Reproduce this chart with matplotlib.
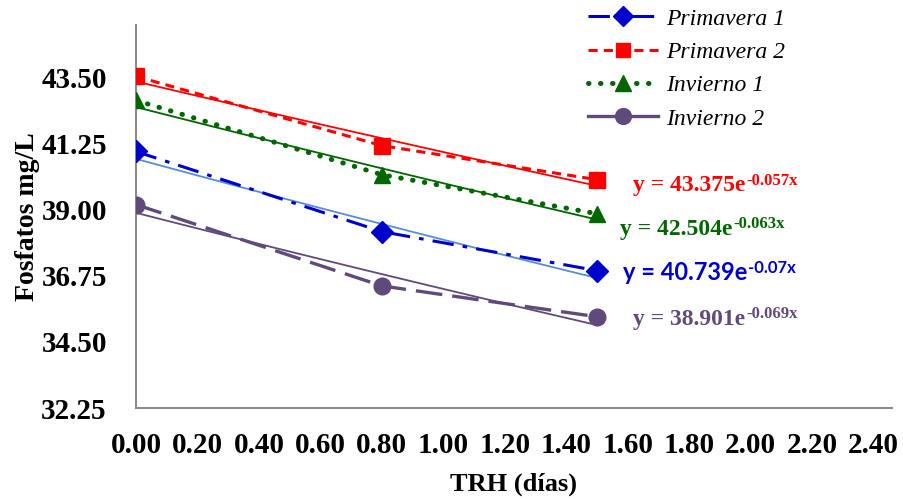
import numpy as np
import matplotlib
matplotlib.use("Agg")
import matplotlib.pyplot as plt
from matplotlib.lines import Line2D

# Sampling times (days) and phosphate measurements (mg/L)
trh = [0.0, 0.8, 1.5]
primavera_1 = [40.99, 38.26, 36.93]
primavera_2 = [43.55, 41.19, 40.03]
invierno_1 = [42.73, 40.20, 38.87]
invierno_2 = [39.18, 36.41, 35.36]

# Exponential trend lines y = a * exp(b x)
fit_a = {"Primavera 1": 40.739, "Primavera 2": 43.375, "Invierno 1": 42.504, "Invierno 2": 38.901}
fit_b = {"Primavera 1": -0.07, "Primavera 2": -0.057, "Invierno 1": -0.063, "Invierno 2": -0.069}

y_ticks = [32.25, 34.50, 36.75, 39.00, 41.25, 43.50]
x_ticks = [0.0, 0.2, 0.4, 0.6, 0.8, 1.0, 1.2, 1.4, 1.6, 1.8, 2.0, 2.2, 2.4]

serif = "Liberation Serif"
W, H = 904, 499

fig = plt.figure(figsize=(W / 100, H / 100), dpi=100)
ax = fig.add_axes([136 / W, 1 - 408 / H, (892 - 136) / W, (408 - 25) / H])

series = [
    ("Primavera 1", primavera_1, "#0000CC", (0, (7, 3, 1.5, 3)), "D", 11, 2.2, "#558ED5"),
    ("Primavera 2", primavera_2, "#FF0000", (0, (3, 2)), "s", 11, 2.2, "#FF0000"),
    ("Invierno 1", invierno_1, "#006600", (0, (0.1, 2.3)), "^", 12, 3.6, "#006600"),
    ("Invierno 2", invierno_2, "#604A7B", (0, (8, 3)), "o", 12, 2.4, "#604A7B"),
]

xs = np.linspace(trh[0], trh[-1], 100)
for name, vals, col, ls, mk, ms, lw, tcol in series:
    a, b = fit_a[name], fit_b[name]
    ax.plot(xs, a * np.exp(b * xs), color=tcol, lw=1.3, zorder=2)

handles = []
for name, vals, col, ls, mk, ms, lw, tcol in series:
    cap = "round" if name == "Invierno 1" else "butt"
    ax.plot(trh, vals, color=col, ls=ls, lw=lw, marker=mk, ms=ms,
            markeredgecolor=col, markerfacecolor=col,
            dash_capstyle=cap, zorder=3)
    hls = "-" if name == "Invierno 2" else ls
    handles.append(Line2D([], [], color=col, ls=hls, lw=lw, marker=mk,
                          ms=ms * 0.95, markeredgecolor=col, markerfacecolor=col,
                          dash_capstyle=cap))

ax.set_xlim(0, 2.46)
ax.set_ylim(32.25, 45.3)
ax.set_xticks(x_ticks)
ax.set_xticklabels([f"{v:.2f}" for v in x_ticks])
ax.set_yticks(y_ticks)
ax.set_yticklabels([f"{v:.2f}" for v in y_ticks])
ax.tick_params(axis="x", length=0, pad=17)
ax.tick_params(axis="y", length=0, pad=21)
for lbl in ax.get_xticklabels() + ax.get_yticklabels():
    lbl.set_fontfamily(serif)
    lbl.set_fontweight("bold")
    lbl.set_fontsize(21)

for s in ("top", "right"):
    ax.spines[s].set_visible(False)
for s in ("left", "bottom"):
    ax.spines[s].set_color("#8C8C8C")
    ax.spines[s].set_linewidth(1.5)

ax.set_xlabel("TRH (días)", fontfamily=serif, fontweight="bold", fontsize=19, labelpad=10)
ax.set_ylabel("Fosfatos mg/L", fontfamily=serif, fontweight="bold", fontsize=20, labelpad=1)

fig.legend(handles, list(fit_a.keys()), loc="upper left",
           bbox_to_anchor=(588 / W, 1 - 8 / H), bbox_transform=fig.transFigure,
           frameon=False, borderpad=0, borderaxespad=0,
           prop={"family": serif, "style": "italic", "size": 17},
           handlelength=2.95, labelspacing=0.5, handletextpad=0.35)

# Trend-line equations: base text plus a raised exponent
eqs = [
    ("Primavera 2", 633, 186, "#FF0000", serif),
    ("Invierno 1", 620, 229, "#006600", serif),
    ("Primavera 1", 623, 273, "#0000CC", "Lato"),
    ("Invierno 2", 633, 319, "#604A7B", serif),
]
base_texts = []
for name, px, py, col, fam in eqs:
    a = fit_a[name]
    t = fig.text(px / W, 1 - py / H, f"y = {a:.3f}e", color=col, fontfamily=fam,
                 fontweight="bold", fontsize=17, va="center", ha="left")
    base_texts.append(t)

fig.canvas.draw()
renderer = fig.canvas.get_renderer()
for (name, px, py, col, fam), t in zip(eqs, base_texts):
    b = fit_b[name]
    bb = t.get_window_extent(renderer)
    top_px = H - py + 13  # exponent sits level with the top of the digits
    fig.text((bb.x1 + 1) / W, top_px / H, f"{b:g}x", color=col,
             fontfamily=fam, fontweight="bold", fontsize=12,
             va="top", ha="left")

fig.savefig("out.png", dpi=100)
